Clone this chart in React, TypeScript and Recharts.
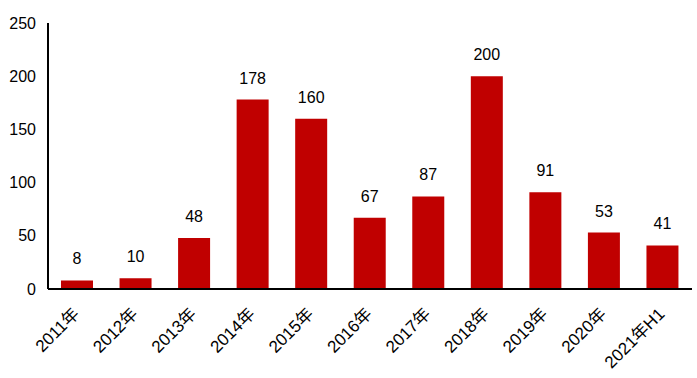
import { BarChart, Bar, XAxis, YAxis, LabelList } from 'recharts';

const years = ['2011年', '2012年', '2013年', '2014年', '2015年', '2016年', '2017年', '2018年', '2019年', '2020年', '2021年H1'];
const counts = [8, 10, 48, 178, 160, 67, 87, 200, 91, 53, 41];
const yTicks = [0, 50, 100, 150, 200, 250];

const data = years.map((year, i) => ({ year, count: counts[i] }));

const font = '"Liberation Sans", "Noto Sans CJK SC", sans-serif';

function YearTick({ x, y, payload }: any) {
  const ax = x + 3;
  const ay = y + 18;
  return (
    <text
      x={ax}
      y={ay}
      transform={`rotate(-45, ${ax}, ${ay})`}
      textAnchor="end"
      fontSize={17}
      fontFamily={font}
      fill="#000"
    >
      {payload.value}
    </text>
  );
}

export default function App() {
  return (
    <div style={{ position: 'absolute', left: 0, top: 0, background: '#fff' }}>
      <BarChart
        width={697}
        height={378}
        data={data}
        margin={{ top: 23, right: 5, bottom: 0, left: 0 }}
      >
        <XAxis
          dataKey="year"
          tick={<YearTick />}
          tickLine={false}
          axisLine={{ stroke: '#000', strokeWidth: 2 }}
          interval={0}
          height={89}
        />
        <YAxis
          domain={[0, 250]}
          ticks={yTicks}
          tickLine={false}
          axisLine={{ stroke: '#000', strokeWidth: 2 }}
          width={48}
          tickMargin={6}
          tick={{ fontSize: 16, fill: '#000', fontFamily: font }}
        />
        <Bar dataKey="count" fill="#C00000" barSize={32} isAnimationActive={false}>
          <LabelList dataKey="count" position="top" offset={16} fontSize={16} fill="#000" fontFamily={font} />
        </Bar>
      </BarChart>
    </div>
  );
}
